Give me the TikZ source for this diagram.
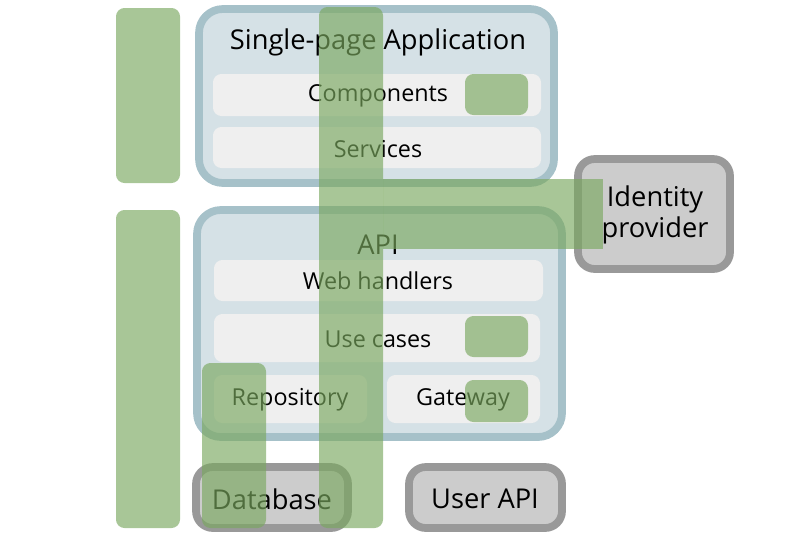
\documentclass[tikz,border=0pt]{standalone}
\usepackage{xcolor}
\usepackage{fontspec}
\setmainfont{Open Sans}
\usepackage{tikz}

\definecolor{panelBlue}{HTML}{A6C1C9}
\definecolor{panelFill}{HTML}{D5E1E6}
\definecolor{layerFill}{HTML}{EFEFEF}
\definecolor{extGray}{HTML}{999999}
\definecolor{extFill}{HTML}{CCCCCC}
\definecolor{markGreen}{HTML}{7AA85F}

\tikzset{
    panel/.style={
        fill=panelFill,
        draw=panelBlue,
        line width=5.5pt,
        rounded corners=17pt
    },
    layer/.style={
        fill=layerFill,
        rounded corners=6pt
    },
    extbox/.style={
        fill=extFill,
        draw=extGray,
        line width=5.5pt,
        rounded corners=12pt
    },
    greenmark/.style={
        fill=markGreen,
        fill opacity=0.65,
        rounded corners=6pt
    },
    titletext/.style={
        font=\fontsize{19.4}{22.5}\selectfont
    },
    layertext/.style={
        font=\fontsize{16.6}{20}\selectfont
    }
}

\begin{document}
\begin{tikzpicture}[x=0.025cm, y=-0.025cm]

        \useasboundingbox (0,0) rectangle (800,540);

        % =====================================================
        % SINGLE-PAGE APPLICATION
        % =====================================================

        \draw[panel] (199,9) rectangle (554,183);
        \node[titletext] (spa) at (378,42) {Single-page Application};

        \fill[layer] (213,74) rectangle (541,116);
        \node[layertext] (components) at (378,96) {Components};

        \fill[layer] (213,127) rectangle (541,168);
        \node[layertext] (services) at (378,149) {Services};

        % =====================================================
        % API
        % =====================================================

        \draw[panel] (197,210) rectangle (562,437);
        \node[titletext] (api) at (378,245) {API};

        \fill[layer] (214,260) rectangle (543,301);
        \node[layertext] (handlers) at (378,281) {Web handlers};

        \fill[layer] (214,314) rectangle (540,362);
        \node[layertext] (usecases) at (378,339) {Use cases};

        \fill[layer] (214,375) rectangle (367,423);
        \node[layertext] (repository) at (290,400) {Repository};

        \fill[layer] (387,375) rectangle (540,423);
        \node[layertext] (gateway) at (463,400) {Gateway};

        % =====================================================
        % EXTERNOS
        % =====================================================

        \draw[extbox] (578,159) rectangle (730,269);
        \node[
            titletext,
            align=center
        ] (idp) at (655,215) {Identity\\provider};

        \draw[extbox] (196,467) rectangle (348,528);
        \node[titletext] (database) at (272,499) {Database};

        \draw[extbox] (409,467) rectangle (562,528);
        \node[titletext] (userapi) at (485,499) {User API};

        % =====================================================
        % MARCAS VERDES
        % =====================================================

        \fill[greenmark] (116,8) rectangle (180,183);
        \fill[greenmark] (116,210) rectangle (180,528);
        \fill[greenmark] (319,7) rectangle (383,528);
        \fill[greenmark, rounded corners=0pt] (383,179) rectangle (603,249);
        \fill[greenmark] (465,74) rectangle (528,115);
        \fill[greenmark] (465,316) rectangle (528,357);
        \fill[greenmark] (465,380) rectangle (528,422);
        \fill[greenmark] (202,363) rectangle (266,528);

\end{tikzpicture}
\end{document}
